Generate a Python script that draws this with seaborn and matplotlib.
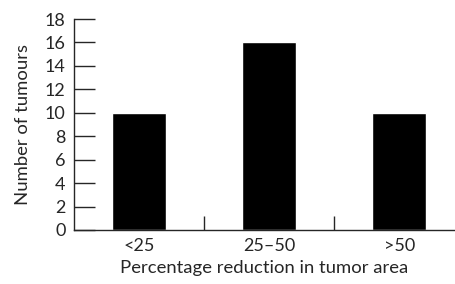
import numpy as np
import pandas as pd
import seaborn as sns
import matplotlib.pyplot as plt

sns.set_style("ticks")
plt.rcParams["font.family"] = ["Lato", "DejaVu Sans"]

# data
categories = ["<25", "25\u201350", ">50"]
counts = [10, 16, 10]

df = pd.DataFrame({"cat": categories, "n": counts})

fig = plt.figure(figsize=(4.55, 2.84), dpi=100)
ax = fig.add_axes([74 / 455, 1 - 230 / 284, (454 - 74) / 455, (230 - 19) / 284])

sns.barplot(data=df, x="cat", y="n", color="black", width=0.415,
            saturation=1, ax=ax)

ax.set_xlim(-0.5, 2.42)
ax.set_ylim(0, 18)
ax.set_yticks(np.arange(0, 19, 2))
ax.tick_params(axis="y", direction="in", length=15, width=1, labelsize=13, pad=6)
ax.tick_params(axis="x", length=0, labelsize=13, pad=6)

# small dividers between categories
ax.set_xticks([0.5, 1.5], minor=True)
ax.tick_params(axis="x", which="minor", direction="in", length=10, width=1)

for s in ["top", "right"]:
    ax.spines[s].set_visible(False)
ax.spines["left"].set_linewidth(1)
ax.spines["bottom"].set_linewidth(1)

ax.set_xlabel("Percentage reduction in tumor area", fontsize=13.3, labelpad=4)
ax.set_ylabel("Number of tumours", fontsize=13.3, labelpad=10)

plt.savefig("out.png", dpi=100)
